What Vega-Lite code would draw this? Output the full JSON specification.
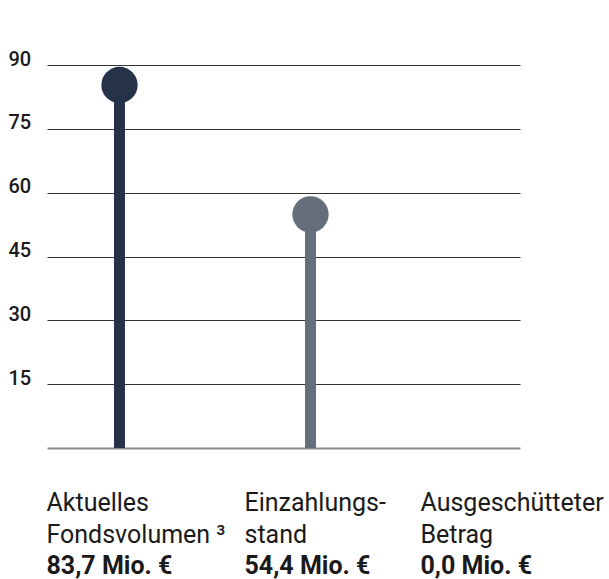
{
  "$schema": "https://vega.github.io/schema/vega-lite/v6.json",
  "width": 473,
  "height": 383,
  "autosize": {"type": "none"},
  "padding": {"left": 47, "top": 65, "right": 89, "bottom": 131},
  "background": "white",
  "config": {"view": {"stroke": null}, "font": "Roboto"},
  "data": {
    "values": [
      {"kategorie": "Aktuelles|Fondsvolumen ³|83,7 Mio. €", "wert": 85.3},
      {"kategorie": "Einzahlungs-|stand|54,4 Mio. €", "wert": 54.9},
      {"kategorie": "Ausgeschütteter|Betrag|0,0 Mio. €", "wert": 0}
    ]
  },
  "encoding": {
    "y": {
      "field": "wert",
      "type": "quantitative",
      "scale": {"domain": [0, 90], "nice": false, "zero": true},
      "axis": {
        "title": null,
        "values": [0, 15, 30, 45, 60, 75, 90],
        "labelExpr": "datum.value === 0 ? '' : datum.label",
        "domain": false,
        "ticks": false,
        "tickSize": 0,
        "grid": true,
        "gridColor": {"condition": {"test": "datum.value === 0", "value": "#8c8c8c"}, "value": "#333333"},
        "gridWidth": {"condition": {"test": "datum.value === 0", "value": 2}, "value": 1},
        "labelAlign": "left",
        "labelBaseline": "alphabetic",
        "labelPadding": 39,
        "labelFont": "Roboto",
        "labelFontSize": 20,
        "labelFontWeight": 500,
        "labelColor": "#1a1a1a"
      }
    },
    "color": {
      "field": "kategorie",
      "type": "nominal",
      "sort": null,
      "scale": {"range": ["#263248", "#676e7b", "#9aa0a8"]},
      "legend": null
    }
  },
  "layer": [
    {
      "mark": {"type": "rule", "strokeWidth": 11, "strokeCap": "butt"},
      "encoding": {
        "x": {
          "field": "kategorie",
          "type": "nominal",
          "sort": null,
          "scale": {"type": "point", "padding": 0.2382, "align": 0.7967},
          "axis": {
            "title": null,
            "orient": "bottom",
            "domain": false,
            "ticks": false,
            "tickSize": 0,
            "grid": false,
            "labelAngle": 0,
            "labelExpr": "slice(split(datum.value, '|'), 0, 2)",
            "labelAlign": "left",
            "labelBaseline": "alphabetic",
            "labelPadding": 62,
            "labelLineHeight": 32,
            "labelOffset": {
              "condition": [
                {"test": "indexof(datum.value, 'Einzahlungs') === 0", "value": -66.5},
                {"test": "indexof(datum.value, 'Ausgeschüttet') === 0", "value": -81.5}
              ],
              "value": -73.5
            },
            "labelFont": "Roboto",
            "labelFontSize": 25,
            "labelFontWeight": 400,
            "labelColor": "#1a1a1a",
            "labelOverlap": false,
            "labelLimit": 0
          }
        },
        "y2": {"datum": 0}
      }
    },
    {
      "transform": [{"filter": "datum.wert > 0"}],
      "mark": {"type": "circle", "size": 1320, "opacity": 1},
      "encoding": {
        "x": {
          "field": "kategorie",
          "type": "nominal",
          "sort": null,
          "scale": {"type": "point", "padding": 0.2382, "align": 0.7967},
          "axis": {
            "title": null,
            "orient": "bottom",
            "domain": false,
            "ticks": false,
            "tickSize": 0,
            "grid": false,
            "labelAngle": 0,
            "labelExpr": "split(datum.value, '|')[2]",
            "labelAlign": "left",
            "labelBaseline": "alphabetic",
            "labelPadding": 125,
            "labelOffset": {
              "condition": [
                {"test": "indexof(datum.value, 'Einzahlungs') === 0", "value": -66.5},
                {"test": "indexof(datum.value, 'Ausgeschüttet') === 0", "value": -81.5}
              ],
              "value": -73.5
            },
            "labelFont": "Roboto",
            "labelFontSize": 25,
            "labelFontWeight": 700,
            "labelColor": "#1a1a1a",
            "labelOverlap": false,
            "labelLimit": 0
          }
        }
      }
    }
  ],
  "resolve": {"axis": {"x": "independent"}}
}
